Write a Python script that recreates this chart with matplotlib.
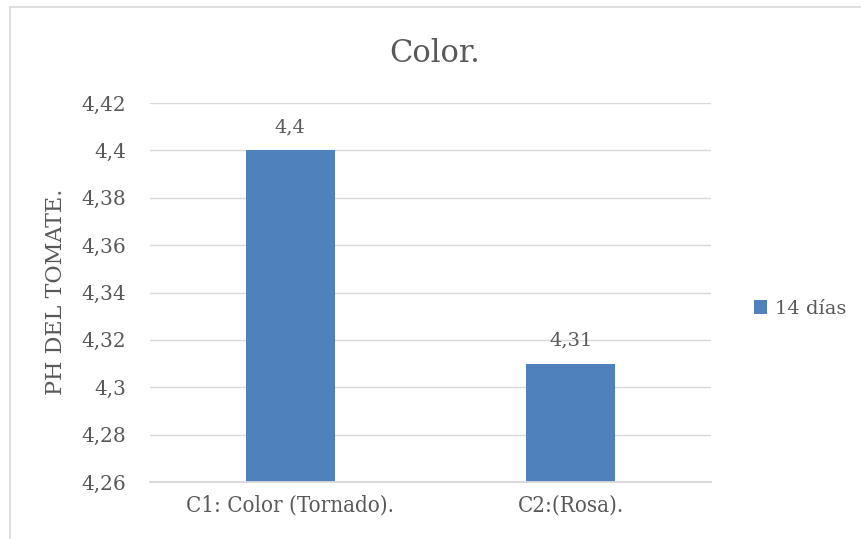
import matplotlib
matplotlib.use("Agg")
import matplotlib.pyplot as plt
from matplotlib.lines import Line2D
from matplotlib.patches import Patch

categories = ["C1: Color (Tornado).", "C2:(Rosa)."]
values = [4.40, 4.31]
value_labels = ["4,4", "4,31"]
series_name = "14 días"
y_ticks = [4.26, 4.28, 4.30, 4.32, 4.34, 4.36, 4.38, 4.40, 4.42]
y_tick_labels = ["4,26", "4,28", "4,3", "4,32", "4,34", "4,36", "4,38", "4,4", "4,42"]
title = "Color."
y_label = "PH DEL TOMATE."

bar_color = "#4f81bd"
text_color = "#595959"
grid_color = "#d9d9d9"
serif = "DejaVu Serif"

W, H = 861, 539
fig = plt.figure(figsize=(W / 100, H / 100), dpi=100)
fig.patch.set_facecolor("white")

# outer chart frame (left and top edges visible)
fig.add_artist(Line2D([10 / W, 10 / W], [0, 1 - 6.5 / H], transform=fig.transFigure,
                      color=grid_color, lw=1.2))
fig.add_artist(Line2D([10 / W, 1], [1 - 6.5 / H, 1 - 6.5 / H], transform=fig.transFigure,
                      color=grid_color, lw=1.2))

ax = fig.add_axes([150 / W, 1 - 482 / H, (711 - 150) / W, (482 - 103) / H])
x = list(range(len(categories)))
bars = ax.bar(x, values, width=0.317, color=bar_color, zorder=3)
ax.set_xlim(-0.5, len(categories) - 0.5)
ax.set_ylim(y_ticks[0], y_ticks[-1])

ax.set_yticks(y_ticks)
ax.set_yticklabels(y_tick_labels, family=serif, fontsize=14.5, color=text_color)
ax.set_xticks(x)
ax.set_xticklabels(categories, family=serif, fontstretch="condensed", fontsize=16,
                   color=text_color)
ax.tick_params(axis="y", length=0, pad=17)
ax.tick_params(axis="x", length=0, pad=9)

ax.grid(axis="y", color=grid_color, lw=1.0, zorder=0)
for side in ["top", "right", "left"]:
    ax.spines[side].set_visible(False)
ax.spines["bottom"].set_color(grid_color)
ax.spines["bottom"].set_linewidth(1.3)
ax.spines["bottom"].set_zorder(4)

for b, v, lab in zip(bars, values, value_labels):
    ax.annotate(lab, (b.get_x() + b.get_width() / 2, v), xytext=(0, 10),
                textcoords="offset points", ha="center", va="bottom",
                family=serif, fontsize=14, color=text_color)

fig.text(435 / W, 1 - 54 / H, title, ha="center", va="center",
         family=serif, fontsize=22, color=text_color)
fig.text(56 / W, 1 - 292 / H, y_label, ha="center", va="center", rotation=90,
         family=serif, fontsize=16, color=text_color)

leg = ax.legend([Patch(facecolor=bar_color)], [series_name], loc="center left",
                bbox_to_anchor=(736 / W, 1 - 309 / H), bbox_transform=fig.transFigure,
                frameon=False, handlelength=0.7, handleheight=0.7, handletextpad=0.4,
                prop={"family": serif, "size": 14})
for t in leg.get_texts():
    t.set_color(text_color)

fig.savefig("out.png", dpi=100)
